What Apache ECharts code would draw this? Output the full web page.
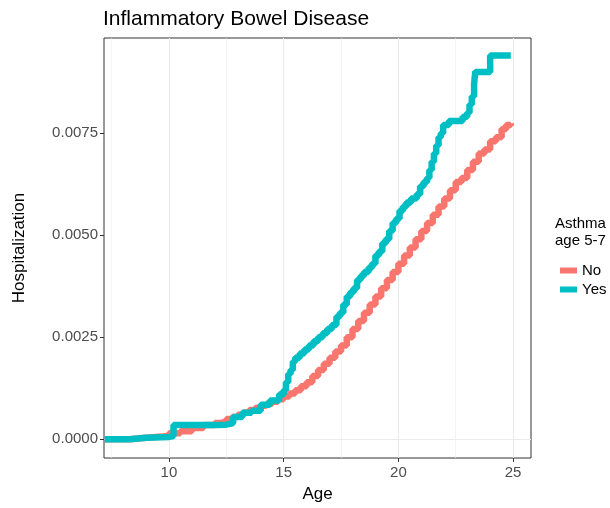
<!doctype html>
<html>
<head>
    <meta charset="utf-8">
    <title>Inflammatory Bowel Disease</title>
    <script src="https://cdn.jsdelivr.net/npm/echarts@6/dist/echarts.min.js"></script>
    <style>
        html, body { margin: 0; padding: 0; background: #fff; }
    </style>
</head>
<body>
    <div id="container" style="width:610px;height:508px;"></div>
    <script type="text/javascript">
        // age, cumulative hospitalization
        var noAge = [7.2, 8.3, 9.0, 10.0, 10.5, 11.0, 11.5, 12.0, 12.25, 12.5, 12.75, 13.0, 13.25, 13.5, 13.75, 14.0, 14.25,
            14.5, 14.75, 15.0, 15.25, 15.5, 15.75, 16.0, 16.25, 16.5, 16.75, 17.0, 17.25, 17.5, 17.75, 18.0, 18.25, 18.5,
            18.75, 19.0, 19.25, 19.5, 19.75, 20.0, 20.25, 20.5, 20.75, 21.0, 21.25, 21.5, 21.75, 22.0, 22.25, 22.5, 22.75,
            23.0, 23.25, 23.5, 23.75, 24.0, 24.25, 24.5, 24.7, 24.9];
        var noVal = [0, 0.00004, 0.00008, 0.00015, 0.0002, 0.00028, 0.00035, 0.0004, 0.00044, 0.0005, 0.00055, 0.0006,
            0.00066, 0.00072, 0.00077, 0.00082, 0.00087, 0.00092, 0.00098, 0.00105, 0.00112, 0.0012, 0.0013, 0.0014,
            0.00155, 0.0017, 0.00185, 0.002, 0.00215, 0.0023, 0.0025, 0.0027, 0.0029, 0.0031, 0.0033, 0.0035, 0.0037,
            0.0039, 0.0041, 0.0043, 0.0045, 0.0047, 0.0049, 0.0051, 0.0053, 0.0055, 0.0057, 0.0059, 0.0061, 0.0063,
            0.0064, 0.0066, 0.0068, 0.007, 0.0071, 0.0073, 0.0074, 0.0076, 0.0077, 0.00774];
        var yesAge = [7.2, 8.3, 9.0, 10.0, 10.2, 12.0, 12.5, 12.8, 13.2, 13.6, 14.0, 14.4, 14.8, 15.0, 15.1, 15.2, 15.3,
            15.4, 15.5, 15.7, 15.9, 16.1, 16.3, 16.5, 16.7, 16.9, 17.1, 17.3, 17.45, 17.6, 17.75, 17.9, 18.05, 18.2, 18.35,
            18.5, 18.7, 18.85, 19.0, 19.15, 19.3, 19.45, 19.6, 19.75, 19.9, 20.05, 20.2, 20.35, 20.55, 20.8, 20.95, 21.1,
            21.25, 21.35, 21.45, 21.55, 21.65, 21.75, 21.85, 21.95, 22.2, 22.8, 23.0, 23.1, 23.2, 23.3, 23.35, 24.0, 24.9];
        var yesVal = [0, 0.00004, 0.00006, 0.00008, 0.00035, 0.00036, 0.0004, 0.00055, 0.00065, 0.0007, 0.00085, 0.00095,
            0.0011, 0.0012, 0.0014, 0.0016, 0.0017, 0.0019, 0.002, 0.0021, 0.0022, 0.0023, 0.0024, 0.0025, 0.0026, 0.0027,
            0.0028, 0.003, 0.0031, 0.0033, 0.0035, 0.0036, 0.0037, 0.0039, 0.004, 0.0041, 0.0042, 0.0043, 0.0045, 0.0046,
            0.0048, 0.0049, 0.0051, 0.0053, 0.0054, 0.0056, 0.0057, 0.0058, 0.0059, 0.006, 0.0062, 0.0063, 0.0064, 0.0066,
            0.0068, 0.007, 0.0072, 0.0074, 0.0075, 0.0077, 0.0078, 0.0079, 0.008, 0.0082, 0.0084, 0.0087, 0.009, 0.0094,
            0.0094];

        var xTicks = [10, 15, 20, 25];
        var xMinor = [7.5, 12.5, 17.5, 22.5];
        var yTicks = [0, 0.0025, 0.005, 0.0075];
        var yMinor = [0.00125, 0.00375, 0.00625, 0.00875];

        function pairs(a, b) {
            var out = [];
            for (var i = 0; i < a.length; i++) out.push([a[i], b[i]]);
            return out;
        }

        //背景网格线
        var gridLines = [];
        xTicks.concat(xMinor).forEach(function (v) {
            gridLines.push({ xAxis: v, lineStyle: { color: '#ebebeb', type: 'solid', width: xTicks.indexOf(v) >= 0 ? 1.1 : 0.6 } });
        });
        yTicks.concat(yMinor).forEach(function (v) {
            gridLines.push({ yAxis: v, lineStyle: { color: '#ebebeb', type: 'solid', width: yTicks.indexOf(v) >= 0 ? 1.1 : 0.6 } });
        });

        var font = 'Liberation Sans, Arial, sans-serif';
        var option = {
            animation: false,
            title: {
                text: 'Inflammatory Bowel Disease',
                left: 98, top: 4,
                textStyle: { fontFamily: font, fontSize: 21, fontWeight: 'normal', color: '#000' }
            },
            grid: {
                left: 104, right: 79, top: 38, bottom: 42,
                show: true, borderColor: '#333', borderWidth: 1, backgroundColor: '#fff'
            },
            legend: {
                orient: 'vertical', left: 555, top: 258,
                icon: 'rect', itemWidth: 17, itemHeight: 6, itemGap: 4,
                textStyle: { fontFamily: font, fontSize: 15, color: '#000' },
                data: ['No', 'Yes']
            },
            graphic: [{
                type: 'text', left: 555, top: 215,
                style: { text: 'Asthma\nage 5-7', font: '15px ' + font, fill: '#000', lineHeight: 17 }
            }],
            xAxis: {
                type: 'value', min: 7.17, max: 25.78,
                name: 'Age', nameLocation: 'middle', nameGap: 28,
                nameTextStyle: { fontFamily: font, fontSize: 17, color: '#000' },
                axisLine: { show: false, onZero: false },
                axisTick: { show: true, length: 4, customValues: xTicks, lineStyle: { color: '#333' } },
                axisLabel: { customValues: xTicks, fontFamily: font, fontSize: 15, color: '#4d4d4d', margin: 7 },
                splitLine: { show: false }
            },
            yAxis: {
                type: 'value', min: -0.000457, max: 0.00983,
                name: 'Hospitalization', nameLocation: 'middle', nameGap: 76, nameRotate: 90,
                nameTextStyle: { fontFamily: font, fontSize: 17, color: '#000' },
                axisLine: { show: false, onZero: false },
                axisTick: { show: true, length: 4, customValues: yTicks, lineStyle: { color: '#333' } },
                axisLabel: {
                    customValues: yTicks, fontFamily: font, fontSize: 15, color: '#4d4d4d', margin: 6,
                    formatter: function (v) { return v.toFixed(4); }
                },
                splitLine: { show: false }
            },
            series: [
                {
                    name: 'grid', type: 'line', data: [], silent: true, z: 0,
                    markLine: { silent: true, z: 0, symbol: 'none', label: { show: false }, data: gridLines }
                },
                {
                    name: 'No', type: 'line', step: 'end', showSymbol: false, z: 10,
                    itemStyle: { color: '#F8766D' },
                    lineStyle: { color: '#F8766D', width: 6.5 },
                    data: pairs(noAge, noVal)
                },
                {
                    name: 'Yes', type: 'line', step: 'end', showSymbol: false, z: 11,
                    itemStyle: { color: '#00BFC4' },
                    lineStyle: { color: '#00BFC4', width: 6.5 },
                    data: pairs(yesAge, yesVal)
                }
            ]
        };
        var myChart = echarts.init(document.getElementById('container'));
        myChart.setOption(option);
    </script>
</body>
</html>
